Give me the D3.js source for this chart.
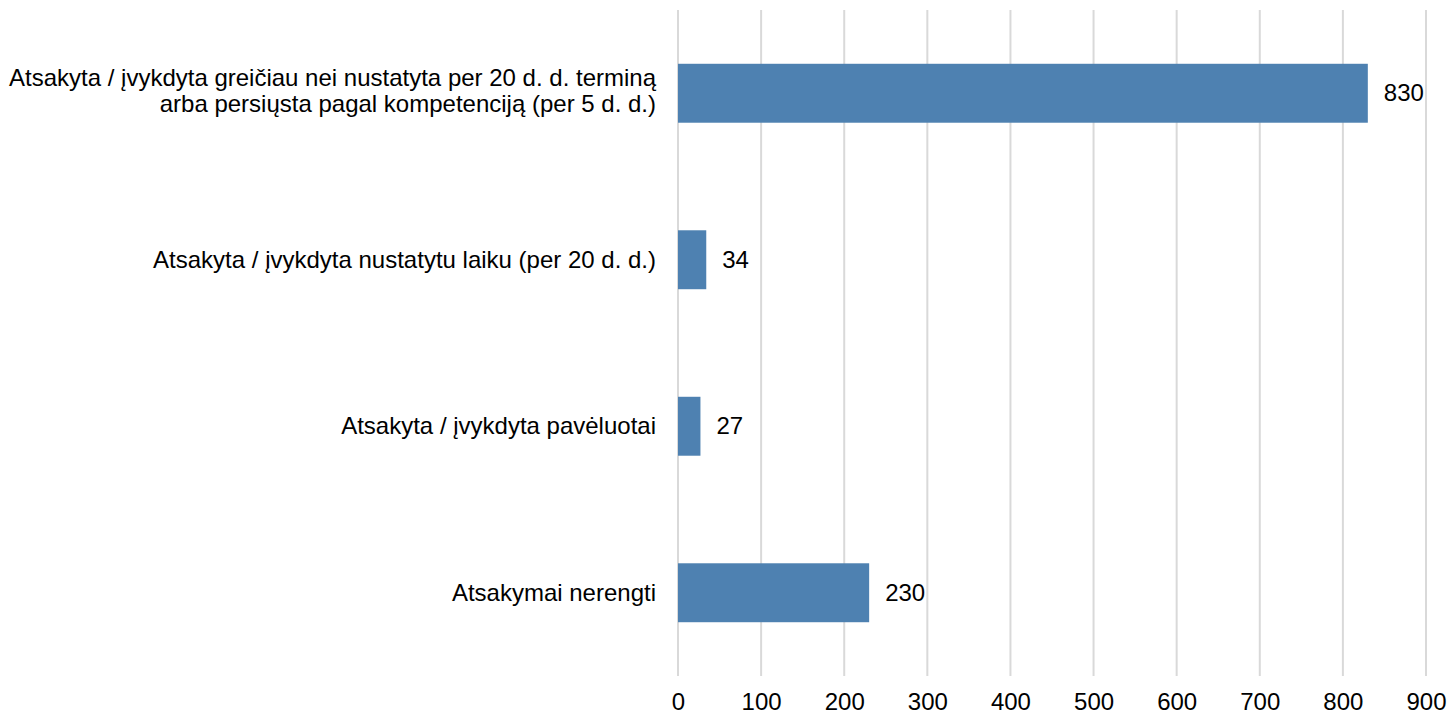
<!DOCTYPE html>
<html>
<head>
<meta charset="utf-8">
<script src="https://cdn.jsdelivr.net/npm/d3@7"></script>
<style>
  body { margin: 0; background: #fff; overflow: hidden; }
  text { font-family: "Liberation Sans", Arial, sans-serif; fill: #000; }
</style>
</head>
<body>
<div class="rowChart"></div>
<script>
// chart data
const categories = [
  ["Atsakyta / įvykdyta greičiau nei nustatyta per 20 d. d. terminą", "arba persiųsta pagal kompetenciją (per 5 d. d.)"],
  ["Atsakyta / įvykdyta nustatytu laiku (per 20 d. d.)"],
  ["Atsakyta / įvykdyta pavėluotai"],
  ["Atsakymai nerengti"]
];
const values = [830, 34, 27, 230];
const xTicks = [0, 100, 200, 300, 400, 500, 600, 700, 800, 900];

const margin = { top: 10, right: 21, bottom: 39, left: 678 },
  width = 1447 - margin.left - margin.right,
  height = 715 - margin.top - margin.bottom;

const svg = d3
  .select(".rowChart")
  .append("svg")
  .attr("width", width + margin.left + margin.right)
  .attr("height", height + margin.top + margin.bottom)
  .style("display", "block")
  .append("g")
  .attr("transform", "translate(" + margin.left + "," + margin.top + ")");

const x = d3.scaleLinear().domain([0, 900]).range([0, width]);

const y = d3
  .scaleBand()
  .domain(d3.range(values.length))
  .range([0, height])
  .paddingInner(0.646)
  .paddingOuter(0.323);

// grid lines
svg
  .selectAll(".grid")
  .data(xTicks)
  .enter()
  .append("line")
  .attr("class", "grid")
  .attr("x1", d => x(d))
  .attr("x2", d => x(d))
  .attr("y1", 0)
  .attr("y2", height)
  .attr("stroke", "#d9d9d9")
  .attr("stroke-width", 2);

// x tick labels
const xAxis = d3.axisBottom(x).tickValues(xTicks).tickSize(0).tickPadding(17);
const xg = svg
  .append("g")
  .attr("transform", "translate(0," + height + ")")
  .call(xAxis);
xg.select(".domain").remove();
xg.selectAll("text")
  .style("font-size", "24px")
  .style("font-family", "'Liberation Sans', Arial, sans-serif")
  .attr("fill", "#000");

// bars
svg
  .selectAll(".bar")
  .data(values)
  .enter()
  .append("rect")
  .attr("class", "bar")
  .attr("x", x(0))
  .attr("y", (d, i) => y(i))
  .attr("width", d => x(d) - x(0))
  .attr("height", y.bandwidth())
  .attr("fill", "#4e81b1");

// value labels
svg
  .selectAll(".value")
  .data(values)
  .enter()
  .append("text")
  .attr("class", "value")
  .attr("x", d => x(d) + 16)
  .attr("y", (d, i) => y(i) + y.bandwidth() / 2)
  .attr("dy", "0.34em")
  .style("font-size", "24px")
  .text(d => d);

// category labels
const lineHeight = 26;
const cat = svg
  .selectAll(".category-label")
  .data(categories)
  .enter()
  .append("text")
  .attr("class", "category-label")
  .attr("text-anchor", "end")
  .style("font-size", "24px")
  .attr("transform", (d, i) => "translate(-22," + (y(i) + y.bandwidth() / 2) + ")");

cat
  .selectAll("tspan")
  .data(d => d.map((t, j) => ({ t, j, n: d.length })))
  .enter()
  .append("tspan")
  .attr("x", 0)
  .attr("y", d => (d.j - (d.n - 1) / 2) * lineHeight - (d.n > 1 ? 2 : 0))
  .attr("dy", "0.34em")
  .text(d => d.t);
</script>
</body>
</html>
